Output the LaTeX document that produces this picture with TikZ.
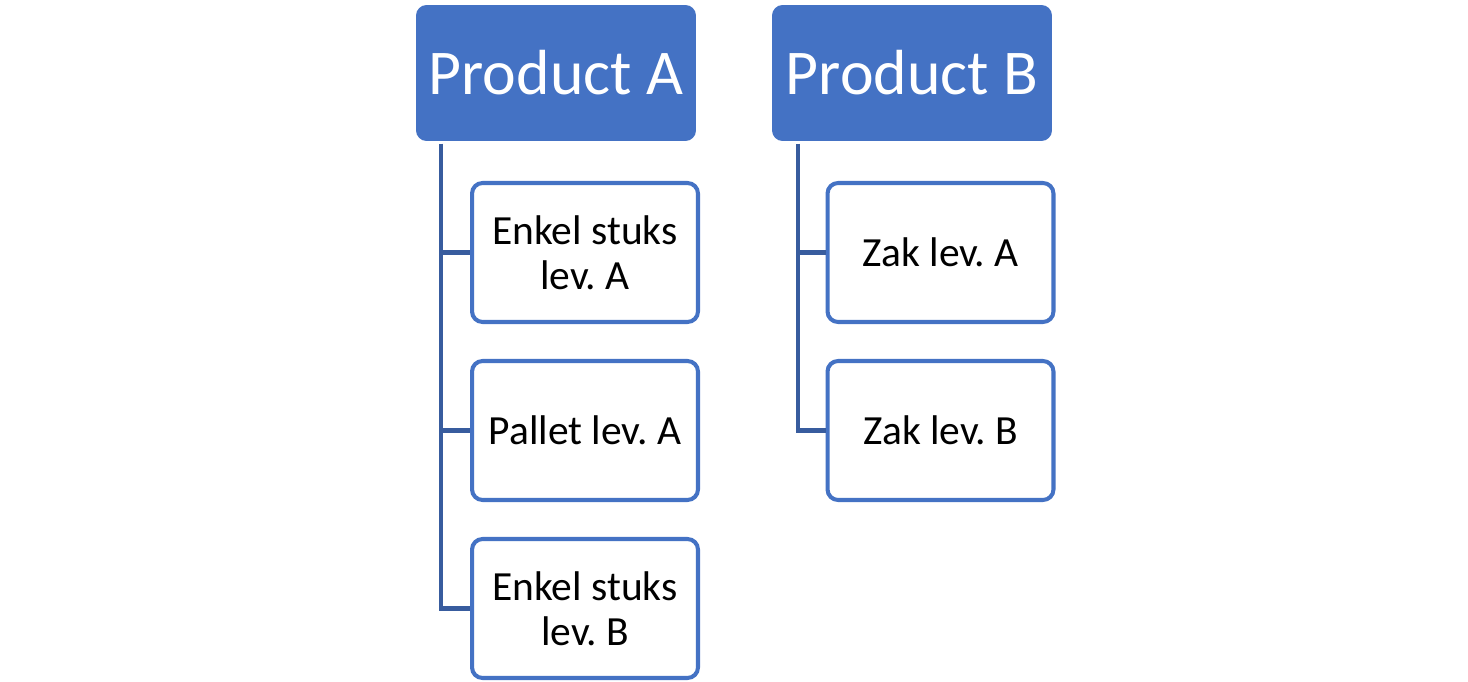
\documentclass[tikz,border=0pt]{standalone}
\usepackage{fontspec}
\setmainfont{Carlito}
\frenchspacing
\usetikzlibrary{positioning}
\definecolor{hdrblue}{RGB}{68,114,196}
\definecolor{linkblue}{RGB}{56,92,158}

\begin{document}
\begin{tikzpicture}[
    x=0.02cm, y=-0.02cm,
    head/.style={rectangle, rounded corners=6pt, fill=hdrblue, text=white, minimum width=5.6cm, minimum height=2.72cm, font=\fontsize{36.3}{40}\selectfont},
    item/.style={rectangle, rounded corners=6pt, draw=hdrblue, line width=2.3pt, fill=white, minimum width=4.52cm, minimum height=2.78cm, align=center, font=\fontsize{23.6}{25.5}\selectfont},
    link/.style={draw=linkblue, line width=2.3pt}
]
\useasboundingbox (0,0) rectangle (1468,682);

% Headers
\node[head] (prodA) at (556,73) {Product A};
\node[head] (prodB) at (912,73) {Product B};

% Product A children
\node[item] (encA) at (585,252.5) {Enkel stuks\\lev. A};
\node[item] (palA) at (585,430.5) {Pallet lev. A};
\node[item] (encB) at (585,608.5) {Enkel stuks\\lev. B};

% Product B children
\node[item] (zakA) at (940.5,252.5) {Zak lev. A};
\node[item] (zakB) at (940.5,430.5) {Zak lev. B};

% Connectors
\coordinate (spineA) at (441,144);
\coordinate (spineB) at (798,144);
\foreach \c in {encA,palA} {
    \draw[link] (spineA) |- (\c.west);
}
\draw[link] (spineA) |- (encB.west);
\foreach \c in {zakA,zakB} {
    \draw[link] (spineB) |- (\c.west);
}

\end{tikzpicture}
\end{document}
